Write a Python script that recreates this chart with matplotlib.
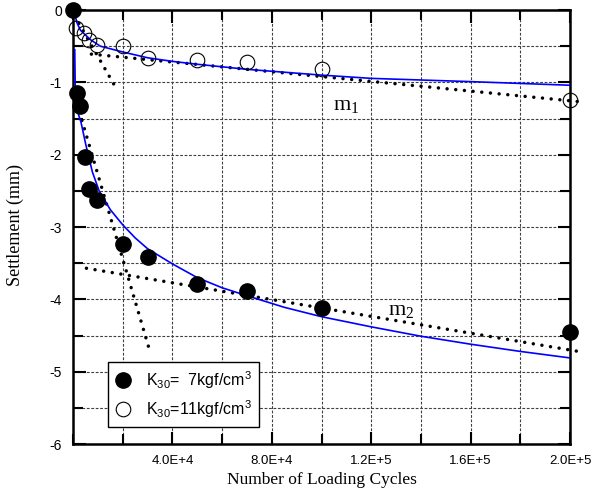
"""Settlement versus number of loading cycles for two K30 values."""

import matplotlib

matplotlib.use("Agg")
import matplotlib.pyplot as plt
from matplotlib.ticker import FixedLocator, FuncFormatter, MultipleLocator

# measured points, K30 = 7 kgf/cm3 (filled) and K30 = 11 kgf/cm3 (open)
cycles_k7 = [0, 1500, 2800, 4700, 6600, 9800, 20000, 30000, 50000, 70000, 100000, 200000]
settle_k7 = [0, -1.15, -1.33, -2.03, -2.48, -2.63, -3.23, -3.42, -3.79, -3.89, -4.12, -4.45]

cycles_k11 = [1200, 4600, 6500, 9800, 20000, 30000, 50000, 70000, 100000, 200000]
settle_k11 = [-0.25, -0.32, -0.42, -0.49, -0.50, -0.66, -0.69, -0.72, -0.82, -1.24]

# fitted curves
fit_k7_cycles = [700, 900, 1400, 3200, 5200, 7800, 10500, 15000, 20000, 25000, 30000,
                 40000, 50000, 60000, 70000, 85000, 100000, 120000, 140000, 160000,
                 180000, 200000]
fit_k7_settle = [-0.55, -1.10, -1.36, -1.55, -1.87, -2.24, -2.50, -2.76, -2.97, -3.15,
                 -3.30, -3.51, -3.70, -3.84, -3.95, -4.11, -4.24, -4.38, -4.51, -4.62,
                 -4.72, -4.81]

fit_k11_cycles = [600, 1500, 3000, 7000, 11000, 20000, 30000, 40000, 50000, 70000,
                  100000, 120000, 160000, 200000]
fit_k11_settle = [-0.03, -0.17, -0.28, -0.41, -0.50, -0.58, -0.66, -0.71, -0.75, -0.82,
                  -0.90, -0.945, -0.99, -1.04]

# dotted slope lines (end points)
m1_early_cycles = [600, 17000]
m1_early_settle = [-0.08, -1.06]
m1_late_cycles = [7400, 204600]
m1_late_settle = [-0.61, -1.27]
m2_early_cycles = [2600, 30600]
m2_early_settle = [-1.41, -4.68]
m2_late_cycles = [5400, 203400]
m2_late_settle = [-3.57, -4.72]

x_tick_values = [40000, 80000, 120000, 160000, 200000]
x_tick_labels = ["4.0E+4", "8.0E+4", "1.2E+5", "1.6E+5", "2.0E+5"]

SERIF = ["Liberation Serif", "DejaVu Serif"]
SANS = ["Liberation Sans", "DejaVu Sans"]

plt.rcParams["font.family"] = SANS
plt.rcParams["mathtext.default"] = "regular"

figure = plt.figure(figsize=(6.02, 4.91), dpi=100)
axes = figure.add_axes([0.1213, 0.0957, 0.8256, 0.8839])

axes.set_xlim(0, 200000)
axes.set_ylim(-6, 0)

dotted = dict(
    color="black",
    linewidth=2.5,
    linestyle=(0, (0.01, 2.5)),
    dash_capstyle="round",
    clip_on=False,
    zorder=3,
)
for xs, ys in [
    (m1_early_cycles, m1_early_settle),
    (m1_late_cycles, m1_late_settle),
    (m2_early_cycles, m2_early_settle),
    (m2_late_cycles, m2_late_settle),
]:
    axes.plot(xs, ys, **dotted)

axes.plot(fit_k7_cycles, fit_k7_settle, color="#0000ff", linewidth=1.2, zorder=4)
axes.plot(fit_k11_cycles, fit_k11_settle, color="#0000ff", linewidth=1.2, zorder=4)

axes.plot(cycles_k7, settle_k7, linestyle="", marker="o", markersize=11,
          markerfacecolor="black", markeredgecolor="black",
          label="K$_{30}$=  7kgf/cm$^3$", clip_on=False, zorder=5)
axes.plot(cycles_k11, settle_k11, linestyle="", marker="o", markersize=10.5,
          markerfacecolor="none", markeredgecolor="black", markeredgewidth=0.8,
          label="K$_{30}$=11kgf/cm$^3$", clip_on=False, zorder=5)

axes.text(104600, -1.38, "m$_1$", family=SERIF, fontsize=16)
axes.text(126600, -4.22, "m$_2$", family=SERIF, fontsize=16)

# ticks and grid
axes.xaxis.set_major_locator(FixedLocator(x_tick_values))
axes.xaxis.set_major_formatter(
    FuncFormatter(lambda value, pos: x_tick_labels[pos] if pos is not None else "")
)
axes.xaxis.set_minor_locator(MultipleLocator(20000))
axes.yaxis.set_major_locator(MultipleLocator(1))
axes.yaxis.set_minor_locator(MultipleLocator(0.5))
axes.yaxis.set_major_formatter(FuncFormatter(lambda value, pos: f"{value:g}"))
axes.tick_params(which="both", direction="in", top=True, right=True,
                 width=1.5, color="black")
axes.tick_params(which="major", length=9)
axes.tick_params(which="minor", length=7)
axes.tick_params(axis="x", which="major", labelsize=9.5, pad=8)
axes.tick_params(axis="y", which="major", labelsize=10, pad=8)
axes.grid(True, which="both", color="#404040", linestyle=(0, (2.5, 1.5)),
          linewidth=0.8)
axes.set_axisbelow(True)

for spine in axes.spines.values():
    spine.set_linewidth(1.8)

axes.set_xlabel("Number of Loading Cycles", family=SERIF, fontsize=12.5)
axes.set_ylabel("Settlement (mm)", family=SERIF, fontsize=13)
axes.xaxis.set_label_coords(0.5, -0.064)
axes.yaxis.set_label_coords(-0.098, 0.505)

legend = axes.legend(
    loc="upper left",
    bbox_to_anchor=(0.0704, 0.189),
    borderaxespad=0,
    fontsize=11.5,
    handlelength=1.0,
    handletextpad=0.9,
    borderpad=0.45,
    labelspacing=0.45,
    fancybox=False,
    framealpha=1,
    edgecolor="black",
)
legend.get_frame().set_linewidth(1.0)
legend.set_zorder(10)

figure.savefig("out.png", dpi=100)
